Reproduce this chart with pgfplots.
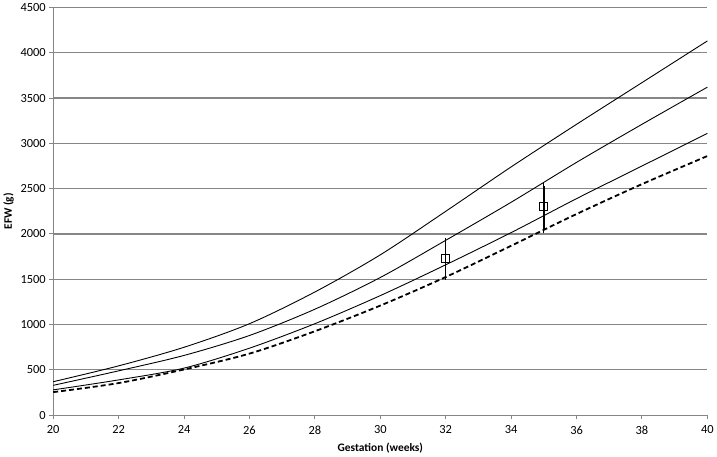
\documentclass[border=0pt]{standalone}
\usepackage{pgfplots}
\pgfplotsset{compat=1.18}
\usepackage{fontspec}
\setmainfont{Carlito}
\definecolor{gridgray}{RGB}{134,134,134}
\begin{document}
\begin{tikzpicture}
\begin{axis}[
  scale only axis, width=656bp, height=409bp,
  xmin=20, xmax=40, ymin=0, ymax=4500,
  xtick={20,22,...,40}, ytick={0,500,...,4500},
  axis lines*=left,
  axis line style={gridgray, line width=1.1pt},
  ymajorgrids, grid style={gridgray, line width=1.1pt},
  tick style={gridgray, line width=1pt},
  tick align=outside, major tick length=4bp,
  tick label style={font=\fontsize{12.5}{14}\selectfont},
  xticklabel style={yshift=-3bp},
  /pgf/number format/assume math mode=true,
  /pgf/number format/1000 sep={},
  xlabel={\textbf{Gestation (weeks)}}, ylabel={\textbf{EFW (g)}},
  label style={font=\fontsize{11.5}{13}\selectfont},
  xlabel style={yshift=-2bp},
  ylabel style={yshift=0bp},
  clip=false,
]
\addplot[black, line width=0.9pt, smooth] coordinates {
 (20,370) (22,545) (24,750) (26,1010) (28,1360) (30,1770) (32,2250) (34,2740) (36,3210) (38,3670) (40,4130)};
\addplot[black, line width=0.9pt, smooth] coordinates {
 (20,330) (22,490) (24,660) (26,880) (28,1170) (30,1520) (32,1930) (34,2350) (36,2790) (38,3210) (40,3620)};
\addplot[black, line width=0.9pt, smooth] coordinates {
 (20,280) (22,390) (24,520) (26,740) (28,1010) (30,1320) (32,1660) (34,2015) (36,2390) (38,2750) (40,3110)};
\addplot[black, line width=1.8pt, dash pattern=on 5bp off 3bp, smooth] coordinates {
 (20,255) (22,355) (24,505) (26,680) (28,927) (30,1210) (32,1525) (34,1870) (36,2220) (38,2550) (40,2860)};
\addplot[black, only marks, mark=square, mark size=4bp, mark options={fill=white, line width=0.8pt},
  error bars/.cd, y dir=both, y explicit,
  error bar style={black, line width=1.3pt},
  error mark options={black, mark size=3bp, line width=0.8pt}]
  coordinates {(32,1735) += (0,183) -= (0,210) (35,2300) += (0,234) -= (0,260)};
\end{axis}
\end{tikzpicture}
\end{document}
